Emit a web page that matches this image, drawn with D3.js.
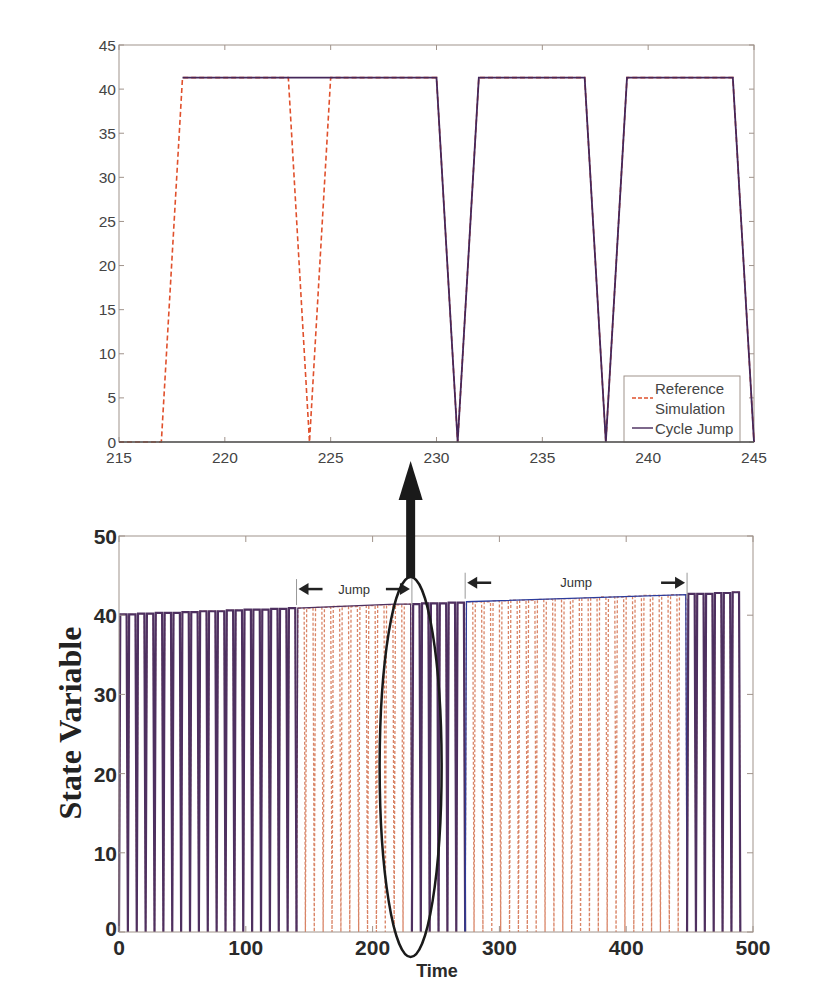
<html>
<script src="https://d3js.org/d3.v7.min.js"></script>
<body style="margin:0;background:#fff">
<svg id="chart" width="819" height="982"></svg>
<script>
// ---- zoomed window (top panel) ----
const topTime = [215,216,217,218,219,220,221,222,223,224,225,226,227,228,229,230,
                 231,232,233,234,235,236,237,238,239,240,241,242,243,244,245];
const topReference = [0,0,0,41.3,41.3,41.3,41.3,41.3,41.3,0,41.3,41.3,41.3,41.3,41.3,41.3,
                      0,41.3,41.3,41.3,41.3,41.3,41.3,0,41.3,41.3,41.3,41.3,41.3,41.3,0];
const topCycleJump = [null,null,null,41.3,41.3,41.3,41.3,41.3,41.3,41.3,41.3,41.3,41.3,41.3,41.3,41.3,
                      0,41.3,41.3,41.3,41.3,41.3,41.3,0,41.3,41.3,41.3,41.3,41.3,41.3,0];
const topXTicks = [215,220,225,230,235,240,245];
const topYTicks = [0,5,10,15,20,25,30,35,40,45];

// ---- full run (bottom panel) ----
const cycleDips = [0,7,14,21,28,35,42,49,56,63,70,77,84,91,98,105,112,119,126,133,
                   140,147,154,161,168,175,182,189,196,203,210,217,224,231,238,245,252,259,266,273,
                   280,287,294,301,308,315,322,329,336,343,350,357,364,371,378,385,392,399,406,413,
                   420,427,434,441,448,455,462,469,476,483,490];
const cyclePeaks = [40.1,40.1,40.2,40.2,40.3,40.3,40.3,40.4,40.4,40.5,
                    40.5,40.5,40.6,40.6,40.7,40.7,40.7,40.8,40.8,40.9,
                    40.9,40.9,41.0,41.0,41.1,41.1,41.1,41.2,41.2,41.3,
                    41.3,41.3,41.4,41.4,41.5,41.5,41.5,41.6,41.6,41.7,
                    41.7,41.7,41.8,41.8,41.9,41.9,41.9,42.0,42.0,42.1,
                    42.1,42.1,42.2,42.2,42.3,42.3,42.3,42.4,42.4,42.5,
                    42.5,42.5,42.6,42.6,42.7,42.7,42.7,42.8,42.8,42.9];
const jumpFrom = [140, 273];
const jumpLanding = [218, 447];
const jumpTo = [231, 448];
const jumpLabels = ["Jump", "Jump"];
const bottomXTicks = [0,100,200,300,400,500];
const bottomYTicks = [0,10,20,30,40,50];

const svg = d3.select("#chart");
const boxColor = "#a0938b";
const refColor = "#e0502c";
const cjColor = "#45275a";

// ================= top panel =================
const xT = d3.scaleLinear().domain([215,245]).range([119,754]);
const yT = d3.scaleLinear().domain([0,45]).range([442,45]);
const gT = svg.append("g");

gT.append("rect").attr("x",xT(215)).attr("y",yT(45))
  .attr("width",xT(245)-xT(215)).attr("height",yT(0)-yT(45))
  .attr("fill","none").attr("stroke",boxColor).attr("stroke-width",1);

topYTicks.forEach(v => {
  gT.append("line").attr("x1",xT(215)).attr("x2",xT(215)+5).attr("y1",yT(v)).attr("y2",yT(v)).attr("stroke",boxColor);
  gT.append("line").attr("x1",xT(245)).attr("x2",xT(245)-5).attr("y1",yT(v)).attr("y2",yT(v)).attr("stroke",boxColor);
  gT.append("text").attr("x",xT(215)-3).attr("y",yT(v)+5.5).attr("text-anchor","end")
    .attr("font-family","Liberation Sans, Arial").attr("font-size",15.5).attr("fill","#444").text(v);
});
topXTicks.forEach(v => {
  gT.append("line").attr("x1",xT(v)).attr("x2",xT(v)).attr("y1",yT(0)).attr("y2",yT(0)-5).attr("stroke",boxColor);
  gT.append("line").attr("x1",xT(v)).attr("x2",xT(v)).attr("y1",yT(45)).attr("y2",yT(45)+5).attr("stroke",boxColor);
  gT.append("text").attr("x",xT(v)).attr("y",yT(0)+21).attr("text-anchor","middle")
    .attr("font-family","Liberation Sans, Arial").attr("font-size",15.5).attr("fill","#444").text(v);
});

const lineT = d3.line().defined(d => d[1] != null).x(d => xT(d[0])).y(d => yT(d[1]));
gT.append("path").datum(topTime.map((t,i) => [t, topReference[i]]))
  .attr("d",lineT).attr("fill","none").attr("stroke",refColor).attr("stroke-width",1.6)
  .attr("stroke-dasharray","5,3");
gT.append("path").datum(topTime.map((t,i) => [t, topCycleJump[i]]))
  .attr("d",lineT).attr("fill","none").attr("stroke",cjColor).attr("stroke-width",1.8);

// legend
const lg = gT.append("g");
lg.append("rect").attr("x",624).attr("y",376).attr("width",116).attr("height",66)
  .attr("fill","#fff").attr("stroke",boxColor);
lg.append("line").attr("x1",632).attr("x2",653).attr("y1",398).attr("y2",398)
  .attr("stroke",refColor).attr("stroke-width",1.4).attr("stroke-dasharray","4,2");
lg.append("line").attr("x1",632).attr("x2",653).attr("y1",428).attr("y2",428)
  .attr("stroke",cjColor).attr("stroke-width",1.4);
[["Reference",394],["Simulation",414],["Cycle Jump",434]].forEach(([s,y]) => {
  lg.append("text").attr("x",655).attr("y",y).attr("font-family","Liberation Sans, Arial")
    .attr("font-size",15).attr("fill","#444").text(s);
});
// redraw bottom axis over legend edge
gT.append("line").attr("x1",xT(215)).attr("x2",xT(245)).attr("y1",yT(0)).attr("y2",yT(0))
  .attr("stroke","#555").attr("stroke-width",1.5);

// ================= bottom panel =================
const xB = d3.scaleLinear().domain([0,500]).range([119,753]);
const yB = d3.scaleLinear().domain([0,50]).range([932,536]);
const gB = svg.append("g");

// reference simulation points
const refPts = [];
for (let k = 0; k < cyclePeaks.length; k++) {
  refPts.push([cycleDips[k],0],[cycleDips[k]+1,cyclePeaks[k]],[cycleDips[k+1]-1,cyclePeaks[k]]);
}
refPts.push([cycleDips[cycleDips.length-1],0]);

// cycle jump segments
const cjSegs = [];
let cur = [];
let k = 0;
while (k < cyclePeaks.length) {
  const d = cycleDips[k];
  const j = jumpFrom.indexOf(d);
  if (j >= 0) {
    cur.push([d,0]);
    cjSegs.push({pts:cur, jump:-1});
    const kEnd = cycleDips.indexOf(jumpTo[j]);
    const p = cyclePeaks[kEnd-1];
    cjSegs.push({pts:[[d,0],[d+1,cyclePeaks[k]],[jumpLanding[j],p],[jumpTo[j]-1,p],[jumpTo[j],0]], jump:j});
    cur = [];
    k = kEnd;
    continue;
  }
  cur.push([d,0],[d+1,cyclePeaks[k]],[cycleDips[k+1]-1,cyclePeaks[k]]);
  k++;
}
cur.push([cycleDips[cycleDips.length-1],0]);
cjSegs.push({pts:cur, jump:-1});

const lineB = d3.line().x(d => xB(d[0])).y(d => yB(d[1]));
gB.append("path").datum(refPts).attr("d",lineB).attr("fill","none")
  .attr("stroke","#d98466").attr("stroke-width",1.3).attr("stroke-dasharray","3,2");
const segColor = s => s.jump === 1 ? "#2c3c9c" : "#4e3060";
cjSegs.forEach(s => {
  gB.append("path").datum(s.pts).attr("d",lineB).attr("fill","none")
    .attr("stroke",segColor(s)).attr("stroke-width",s.jump >= 0 ? 1.3 : 2.2);
});

gB.append("rect").attr("x",xB(0)).attr("y",yB(50))
  .attr("width",xB(500)-xB(0)).attr("height",yB(0)-yB(50))
  .attr("fill","none").attr("stroke",boxColor).attr("stroke-width",1);
bottomYTicks.forEach(v => {
  gB.append("line").attr("x1",xB(0)).attr("x2",xB(0)+6).attr("y1",yB(v)).attr("y2",yB(v)).attr("stroke",boxColor);
  gB.append("line").attr("x1",xB(500)).attr("x2",xB(500)-6).attr("y1",yB(v)).attr("y2",yB(v)).attr("stroke",boxColor);
  gB.append("text").attr("x",xB(0)-2).attr("y",yB(v)+(v === 0 ? 4 : 8)).attr("text-anchor","end")
    .attr("font-family","Liberation Sans, Arial").attr("font-weight","bold")
    .attr("font-size",21).attr("fill","#2a2a2a").text(v);
});
bottomXTicks.forEach(v => {
  gB.append("line").attr("x1",xB(v)).attr("x2",xB(v)).attr("y1",yB(0)).attr("y2",yB(0)-6).attr("stroke",boxColor);
  gB.append("line").attr("x1",xB(v)).attr("x2",xB(v)).attr("y1",yB(50)).attr("y2",yB(50)+6).attr("stroke",boxColor);
  gB.append("text").attr("x",xB(v)).attr("y",yB(0)+23).attr("text-anchor","middle")
    .attr("font-family","Liberation Sans, Arial").attr("font-weight","bold")
    .attr("font-size",21).attr("fill","#2a2a2a").text(v);
});

svg.append("text").attr("transform","translate(81,723) rotate(-90)").attr("text-anchor","middle")
  .attr("font-family","Liberation Serif, Times New Roman").attr("font-weight","bold")
  .attr("font-size",32).attr("fill","#222").text("State Variable");
svg.append("text").attr("x",437).attr("y",977).attr("text-anchor","middle")
  .attr("font-family","Liberation Sans, Arial").attr("font-weight","bold")
  .attr("font-size",18).attr("fill","#2a2a2a").text("Time");

// jump annotations
const annY = [43.3, 44.1];
jumpFrom.forEach((f,i) => {
  const x1 = xB(f), x2 = xB(jumpTo[i]), y = yB(annY[i]);
  gB.append("line").attr("x1",x1).attr("x2",x1).attr("y1",y-10).attr("y2",y+16).attr("stroke","#999").attr("stroke-width",1);
  gB.append("line").attr("x1",x2).attr("x2",x2).attr("y1",y-10).attr("y2",y+16).attr("stroke","#999").attr("stroke-width",1);
  // left arrow
  gB.append("line").attr("x1",x1+10).attr("x2",x1+26).attr("y1",y).attr("y2",y).attr("stroke","#222").attr("stroke-width",2.5);
  gB.append("path").attr("d",`M${x1+2},${y} L${x1+12},${y-6} L${x1+12},${y+6} Z`).attr("fill","#222");
  // right arrow
  gB.append("line").attr("x1",x2-26).attr("x2",x2-10).attr("y1",y).attr("y2",y).attr("stroke","#222").attr("stroke-width",2.5);
  gB.append("path").attr("d",`M${x2-2},${y} L${x2-12},${y-6} L${x2-12},${y+6} Z`).attr("fill","#222");
  gB.append("text").attr("x",(x1+x2)/2).attr("y",y+4.5).attr("text-anchor","middle")
    .attr("font-family","Liberation Sans, Arial").attr("font-size",13).attr("fill","#333").text(jumpLabels[i]);
});

// zoom marker: ellipse + arrow up to the top panel
const cx = xB(230);
svg.append("ellipse").attr("cx",cx).attr("cy",767).attr("rx",31).attr("ry",190)
  .attr("fill","none").attr("stroke","#1a1a1a").attr("stroke-width",2.5);
svg.append("rect").attr("x",cx-4.5).attr("y",495).attr("width",9).attr("height",83).attr("fill","#1a1a1a");
svg.append("path").attr("d",`M${cx-12},${500} L${cx},${461} L${cx+12},${500} Z`).attr("fill","#1a1a1a");
</script>
</body>
</html>
